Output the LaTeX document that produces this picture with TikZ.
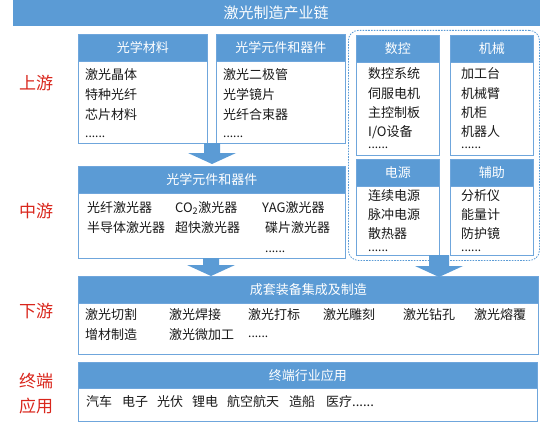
\documentclass[tikz,border=0pt]{standalone}
\usepackage{fontspec}
\setmainfont{Noto Sans CJK SC}
\usetikzlibrary{calc}
\definecolor{cblue}{HTML}{5B9BD5}
\definecolor{cline}{HTML}{6FA6DC}
\definecolor{cred}{HTML}{D9261C}
\definecolor{ctext}{HTML}{1A1A1A}
\tikzset{
  outerbox/.style={draw=cline, fill=white, line width=0.9pt, anchor=north west, inner sep=0, minimum width=#1},
  hdr/.style={fill=cblue, draw=cline, line width=0.9pt, anchor=north west, inner sep=0, minimum height=27pt, minimum width=#1, text=white, font=\fontsize{13}{15}\selectfont},
  txt/.style={anchor=west, inner sep=0, text=ctext, font=\fontsize{13}{15}\selectfont},
  dots/.style={anchor=west, inner sep=0, text=ctext, font=\fontsize{12}{14}\selectfont, text height=2pt, text depth=0pt},
  side/.style={inner sep=0, text=cred, font=\fontsize{17}{25}\selectfont, align=center},
  dashbox/.style={draw=cblue, line width=0.8pt, dash pattern=on 1.6pt off 1.2pt, rounded corners=10pt, anchor=north west, inner sep=0},
  blkarrow/.style={fill=cblue}
}
\newcommand\blockarrow[3]{% start coord, tip coord, shaft half width
  \fill[blkarrow] ($(#1)+(-#3,0)$) -- ($(#1)+(#3,0)$) -- ($(#2)+(#3,-11)$) -- ($(#2)+(24,-11)$) -- (#2) -- ($(#2)+(-24,-11)$) -- ($(#2)+(-#3,-11)$) -- cycle;}
\begin{document}
\begin{tikzpicture}[x=1pt,y=-1pt]
\useasboundingbox (0,0) rectangle (540,425);
% title
\node[fill=cblue, anchor=north west, inner sep=0, minimum width=527pt, minimum height=26pt] (title) at (13,0) {};
\node[text=white, font=\fontsize{15}{17}\selectfont, inner sep=0] (titletxt) at (276,13) {激光制造产业链};

% side labels
\node[side] (s1) at (36,83) {上游};
\node[side] (s2) at (36,211) {中游};
\node[side] (s3) at (36,311) {下游};
\node[side] (s4) at (36,394) {终端\\应用};

% dashed group
\node[dashbox, minimum width=191pt, minimum height=230pt] (grp) at (348,30) {};

% upper box 1
\node[outerbox=129pt, minimum height=109pt] (b1) at (78,34) {};
\node[hdr=129pt] (h1) at (78,34) {光学材料};
\node[txt] (t11) at (85,75) {激光晶体};
\node[txt] (t12) at (85,95) {特种光纤};
\node[txt] (t13) at (85,115) {芯片材料};
\node[dots] (t14) at (85,136) {......};

% upper box 2
\node[outerbox=129pt, minimum height=109pt] (b2) at (216,34) {};
\node[hdr=129pt] (h2) at (216,34) {光学元件和器件};
\node[txt] (t21) at (223,75) {激光二极管};
\node[txt] (t22) at (223,95) {光学镜片};
\node[txt] (t23) at (223,115) {光纤合束器};
\node[dots] (t24) at (223,136) {......};

% 数控
\node[outerbox=83pt, minimum height=120pt] (b3) at (356,35) {};
\node[hdr=83pt] (h3) at (356,35) {数控};
\node[txt] (t31) at (368,74) {数控系统};
\node[txt] (t32) at (368,93.5) {伺服电机};
\node[txt] (t33) at (368,113) {主控制板};
\node[txt] (t34) at (368,132) {I/O设备};
\node[dots] (t35) at (368,147) {......};

% 机械
\node[outerbox=83pt, minimum height=120pt] (b4) at (450,35) {};
\node[hdr=83pt] (h4) at (450,35) {机械};
\node[txt] (t41) at (461,74) {加工台};
\node[txt] (t42) at (461,93.5) {机械臂};
\node[txt] (t43) at (461,113) {机柜};
\node[txt] (t44) at (461,132) {机器人};
\node[dots] (t45) at (461,147) {......};

% 电源
\node[outerbox=83pt, minimum height=96pt] (b5) at (356,159) {};
\node[hdr=83pt] (h5) at (356,159) {电源};
\node[txt] (t51) at (368,196) {连续电源};
\node[txt] (t52) at (368,215) {脉冲电源};
\node[txt] (t53) at (368,234) {散热器};
\node[dots] (t54) at (368,250) {......};

% 辅助
\node[outerbox=83pt, minimum height=96pt] (b6) at (450,159) {};
\node[hdr=83pt] (h6) at (450,159) {辅助};
\node[txt] (t61) at (461,196) {分析仪};
\node[txt] (t62) at (461,215) {能量计};
\node[txt] (t63) at (461,234) {防护镜};
\node[dots] (t64) at (461,250) {......};

% middle box
\node[outerbox=267pt, minimum height=92pt] (b7) at (78,166) {};
\node[hdr=267pt] (h7) at (78,166) {光学元件和器件};
\node[txt] (t71) at (87,208) {光纤激光器};
\node[txt] (t72) at (175,208) {CO\textsubscript{2}激光器};
\node[txt] (t73) at (262,208) {YAG激光器};
\node[txt] (t74) at (87,228) {半导体激光器};
\node[txt] (t75) at (175,228) {超快激光器};
\node[txt] (t76) at (265,228) {碟片激光器};
\node[dots] (t77) at (265,251) {......};

% arrows
\coordinate (a1s) at (212,143);
\coordinate (a1e) at (212,164);
\coordinate (a2s) at (211,258);
\coordinate (a2e) at (211,276);
\coordinate (a3s) at (439,255);
\coordinate (a3e) at (439,277);

% downstream box
\node[outerbox=460pt, minimum height=78pt] (b8) at (78,276) {};
\node[hdr=460pt] (h8) at (78,276) {成套装备集成及制造};
\node[txt] (t81) at (85,315) {激光切割};
\node[txt] (t82) at (169,315) {激光焊接};
\node[txt] (t83) at (248,315) {激光打标};
\node[txt] (t84) at (323,315) {激光雕刻};
\node[txt] (t85) at (403,315) {激光钻孔};
\node[txt] (t86) at (474,315) {激光熔覆};
\node[txt] (t87) at (85,335) {增材制造};
\node[txt] (t88) at (169,335) {激光微加工};
\node[dots] (t89) at (248,336) {......};

% terminal box
\node[outerbox=459pt, minimum height=59pt] (b9) at (78,362) {};
\node[hdr=459pt, minimum height=26pt] (h9) at (78,362) {终端行业应用};
\node[txt] (t91) at (86,402) {汽车};
\node[txt] (t92) at (122,402) {电子};
\node[txt] (t93) at (157,402) {光伏};
\node[txt] (t94) at (192,402) {锂电};
\node[txt] (t95) at (227,402) {航空航天};
\node[txt] (t96) at (289,402) {造船};
\node[txt] (t97) at (326,402) {医疗......};

\blockarrow{a1s}{a1e}{8}
\blockarrow{a2s}{a2e}{8}
\blockarrow{a3s}{a3e}{10}
\end{tikzpicture}
\end{document}
